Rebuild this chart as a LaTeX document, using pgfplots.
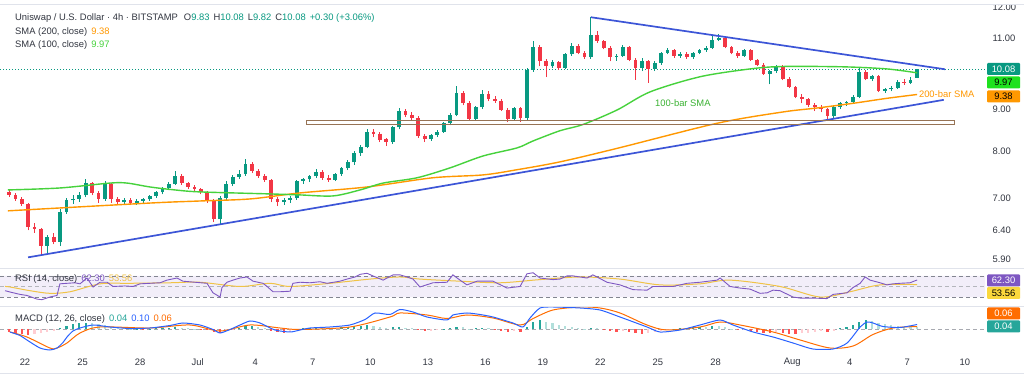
\documentclass[border=0pt]{standalone}
\usepackage{fontspec}
\setmainfont{Liberation Sans}
\usepackage{pgfplots}
\pgfplotsset{compat=1.18}
\usepackage{pgfplotstable}

\definecolor{upc}{RGB}{8,153,129}
\definecolor{dnc}{RGB}{242,54,69}
\definecolor{sma100}{RGB}{70,210,60}
\definecolor{sma100box}{RGB}{30,225,30}
\definecolor{sma200}{RGB}{255,152,0}
\definecolor{tline}{RGB}{60,85,215}
\definecolor{zone}{RGB}{150,115,85}
\definecolor{rsic}{RGB}{126,87,194}
\definecolor{rsima}{RGB}{240,195,70}
\definecolor{rsibox}{RGB}{250,215,60}
\definecolor{rsiband}{RGB}{242,238,249}
\definecolor{macdc}{RGB}{41,98,255}
\definecolor{sigc}{RGB}{255,109,0}
\definecolor{hup}{RGB}{38,166,154}
\definecolor{hupl}{RGB}{178,223,219}
\definecolor{hdn}{RGB}{255,82,82}
\definecolor{hdnl}{RGB}{255,205,210}
\definecolor{txt}{RGB}{50,54,64}
\definecolor{sep}{RGB}{224,227,235}
\definecolor{dashc}{RGB}{130,133,144}

\newcommand\f{\fontsize{9.4}{10}\selectfont}

% candles sampled every 8 hours, x = index/3 - 0.8333 (days since 22 Jun)
\pgfplotstableread{
o h l c
7.12 7.16 7.03 7.06
7.06 7.10 6.95 6.98
6.98 7.02 6.86 6.90
6.90 6.92 6.40 6.46
6.46 6.53 6.36 6.43
6.43 6.45 5.97 6.13
6.13 6.32 6.00 6.28
6.28 6.36 6.15 6.20
6.20 6.80 6.12 6.74
6.74 7.00 6.70 6.96
6.96 7.06 6.90 6.99
6.99 7.12 6.94 7.06
7.06 7.40 7.02 7.31
7.31 7.34 7.06 7.10
7.10 7.14 6.92 6.98
6.98 7.35 6.95 7.30
7.30 7.32 6.92 6.98
6.98 7.03 6.88 6.93
6.93 7.00 6.89 6.97
6.97 7.01 6.87 6.91
6.91 6.98 6.88 6.95
6.95 7.01 6.91 6.98
6.98 7.07 6.95 7.05
7.05 7.15 7.01 7.12
7.12 7.23 7.08 7.20
7.20 7.33 7.16 7.30
7.30 7.56 7.27 7.46
7.46 7.50 7.28 7.31
7.31 7.34 7.19 7.22
7.22 7.27 7.14 7.18
7.18 7.21 7.08 7.12
7.12 7.14 6.92 6.95
6.95 6.98 6.55 6.60
6.60 7.05 6.52 7.00
7.00 7.35 6.97 7.30
7.30 7.48 7.25 7.44
7.44 7.58 7.40 7.50
7.50 7.83 7.46 7.72
7.72 7.76 7.52 7.56
7.56 7.60 7.42 7.46
7.46 7.50 7.34 7.38
7.38 7.40 6.93 6.98
6.98 7.02 6.85 6.94
6.94 7.00 6.88 6.97
6.97 7.04 6.91 7.00
7.00 7.38 6.97 7.35
7.35 7.42 7.30 7.39
7.39 7.48 7.33 7.45
7.45 7.60 7.41 7.55
7.55 7.58 7.38 7.42
7.42 7.47 7.34 7.38
7.38 7.53 7.35 7.50
7.50 7.65 7.46 7.62
7.62 7.80 7.58 7.75
7.75 8.00 7.70 7.95
7.95 8.14 7.90 8.10
8.10 8.50 8.06 8.45
8.45 8.52 8.32 8.40
8.40 8.44 8.20 8.25
8.28 8.31 8.12 8.20
8.20 8.58 8.16 8.55
8.55 9.03 8.50 8.95
8.95 9.00 8.80 8.86
8.86 8.92 8.72 8.78
8.78 8.82 8.30 8.35
8.35 8.40 8.20 8.27
8.27 8.40 8.23 8.36
8.36 8.48 8.32 8.45
8.45 8.68 8.42 8.65
8.65 8.90 8.60 8.86
8.86 9.62 8.82 9.42
9.42 9.48 9.10 9.15
9.15 9.20 8.72 8.76
8.76 9.08 8.72 9.05
9.05 9.50 9.00 9.40
9.40 9.46 9.20 9.25
9.25 9.34 9.16 9.21
9.21 9.25 8.95 8.99
8.99 9.02 8.68 8.75
8.75 9.06 8.72 9.02
9.02 9.05 8.68 8.78
8.78 10.10 8.74 10.05
10.05 10.90 10.00 10.72
10.72 10.78 10.15 10.30
10.30 10.38 9.85 10.15
10.15 10.35 10.10 10.28
10.28 10.32 10.05 10.12
10.12 10.55 10.08 10.50
10.50 10.85 10.46 10.75
10.75 10.80 10.50 10.55
10.55 10.60 10.38 10.42
10.42 11.66 10.38 11.10
11.10 11.22 10.85 10.90
10.90 10.95 10.65 10.70
10.70 10.74 10.30 10.42
10.42 10.50 10.32 10.46
10.46 10.78 10.42 10.72
10.72 10.76 10.30 10.35
10.35 10.40 9.78 10.10
10.10 10.40 10.02 10.30
10.30 10.34 9.70 10.08
10.08 10.30 10.02 10.25
10.25 10.58 10.20 10.55
10.55 10.68 10.50 10.62
10.62 10.65 10.40 10.45
10.45 10.56 10.40 10.52
10.52 10.56 10.38 10.42
10.42 10.58 10.38 10.55
10.55 10.66 10.50 10.62
10.62 10.74 10.58 10.70
10.70 11.05 10.66 10.95
10.95 11.12 10.90 11.00
11.00 11.03 10.68 10.72
10.72 10.76 10.50 10.55
10.55 10.60 10.40 10.45
10.45 10.66 10.42 10.62
10.62 10.65 10.32 10.35
10.35 10.38 10.16 10.20
10.20 10.24 9.92 9.95
9.95 10.06 9.65 10.01
10.01 10.20 9.96 10.15
10.15 10.18 9.76 9.80
9.80 9.84 9.54 9.58
9.58 9.62 9.28 9.32
9.32 9.38 9.15 9.26
9.26 9.30 9.06 9.10
9.10 9.16 8.95 9.05
9.05 9.10 8.92 9.00
9.00 9.04 8.70 8.82
8.82 9.08 8.78 9.05
9.05 9.18 9.00 9.15
9.15 9.22 9.08 9.18
9.18 9.36 9.14 9.32
9.32 10.10 9.28 10.00
10.00 10.04 9.76 9.80
9.80 9.92 9.74 9.88
9.88 9.90 9.44 9.48
9.48 9.56 9.42 9.52
9.52 9.60 9.46 9.55
9.55 9.76 9.52 9.72
9.72 9.80 9.64 9.70
9.70 9.84 9.66 9.78
9.83 10.08 9.82 10.08
}\candles

\pgfplotstableread{
k v c
0 -0.05 2
1 -0.08 2
2 -0.10 2
3 -0.12 2
4 -0.10 3
5 -0.07 3
6 -0.05 3
7 -0.03 3
8 0.03 0
9 0.07 0
10 0.10 0
11 0.12 0
12 0.13 0
13 0.12 1
14 0.10 1
15 0.08 1
16 0.05 1
17 0.03 1
18 0.02 1
19 0.01 1
20 0.01 0
21 -0.01 2
22 0.01 0
23 0.02 0
24 0.02 0
25 0.03 0
26 0.04 0
27 0.03 1
28 0.02 1
29 0.01 1
30 -0.01 2
31 -0.02 2
32 -0.05 2
33 -0.07 2
34 -0.04 3
35 -0.01 3
36 0.03 0
37 0.06 0
38 0.07 0
39 0.05 1
40 0.03 1
41 -0.03 2
42 -0.06 2
43 -0.07 2
44 -0.05 3
45 -0.01 3
46 0.02 0
47 0.03 0
48 0.04 0
49 0.03 1
50 0.02 1
51 0.03 0
52 0.04 0
53 0.05 0
54 0.06 0
55 0.07 0
56 0.08 0
57 0.06 1
58 0.04 1
59 0.03 1
60 0.04 0
61 0.05 0
62 0.03 1
63 0.02 1
64 -0.02 2
65 -0.04 2
66 -0.03 3
67 -0.01 3
68 0.01 0
69 0.02 0
70 0.05 0
71 0.04 1
72 0.01 1
73 0.02 0
74 0.03 0
75 0.02 1
76 -0.01 2
77 -0.03 2
78 -0.05 2
79 -0.04 3
80 -0.06 2
81 0.05 0
82 0.15 0
83 0.18 0
84 0.15 1
85 0.12 1
86 0.09 1
87 0.06 1
88 0.04 1
89 0.02 1
90 0.01 1
91 0.03 0
92 0.02 1
93 -0.01 2
94 -0.03 2
95 -0.05 2
96 -0.04 3
97 -0.06 2
98 -0.08 2
99 -0.09 2
100 -0.07 3
101 -0.05 3
102 -0.03 3
103 -0.01 3
104 0.01 0
105 0.02 0
106 0.03 0
107 0.04 0
108 0.05 0
109 0.05 1
110 0.06 0
111 0.06 1
112 0.04 1
113 0.01 1
114 -0.02 2
115 -0.01 3
116 -0.03 2
117 -0.05 2
118 -0.07 2
119 -0.08 2
120 -0.06 3
121 -0.07 2
122 -0.09 2
123 -0.10 2
124 -0.08 3
125 -0.07 3
126 -0.05 3
127 -0.04 3
128 -0.05 2
129 -0.03 3
130 0.02 0
131 0.05 0
132 0.08 0
133 0.15 0
134 0.19 0
135 0.16 1
136 0.13 1
137 0.10 1
138 0.08 1
139 0.06 1
140 0.05 1
141 0.04 1
142 0.04 1
}\hist

\pgfplotstablegetrowsof{\candles}
\pgfmathtruncatemacro{\Nc}{\pgfplotsretval-1}

\begin{document}
\begin{tikzpicture}[x=1pt,y=1pt]
\path[use as bounding box] (0,0) rectangle (1024,377);
\fill[white] (0,0) rectangle (1024,377);

% ---------------- main price pane ----------------
\begin{axis}[
  at={(0pt,109pt)}, anchor=south west,
  width=985pt, height=268pt, scale only axis,
  xmin=-1.303, xmax=50.05,
  ymode=log, ymin=5.755, ymax=12.24,
  axis line style={draw=none}, tick style={draw=none},
  xtick=\empty, minor ytick={},
  ytick={5.9,6.4,7,8,9,11,12},
  yticklabels={5.90,6.40,7.00,8.00,9.00,11.00,12.00},
  yticklabel pos=right,
  yticklabel style={anchor=west, xshift=4pt, font=\f, text=txt},
  clip=false,
]
\addplot[upc, line width=0.6pt, dash pattern=on 1pt off 2pt, forget plot] coordinates {(-1.303,10.08) (50.05,10.08)};

\pgfplotsforeachungrouped \i in {0,...,\Nc}{%
  \pgfplotstablegetelem{\i}{o}\of\candles \let\cO\pgfplotsretval
  \pgfplotstablegetelem{\i}{h}\of\candles \let\cH\pgfplotsretval
  \pgfplotstablegetelem{\i}{l}\of\candles \let\cL\pgfplotsretval
  \pgfplotstablegetelem{\i}{c}\of\candles \let\cC\pgfplotsretval
  \pgfmathsetmacro{\cx}{\i/3-0.8333}%
  \pgfmathtruncatemacro{\isdn}{\cC<\cO}%
  \ifnum\isdn=1 \def\ccol{dnc}\else\def\ccol{upc}\fi
  \edef\tmp{%
    \noexpand\addplot[\ccol, line width=0.8pt, forget plot] coordinates {(\cx,\cL) (\cx,\cH)};%
    \noexpand\addplot[\ccol, line width=3.8pt, forget plot] coordinates {(\cx,\cO) (\cx,\cC)};%
  }\tmp
}

\addplot[sma200, line width=1.4pt, smooth, tension=0.5] coordinates {
(-0.89,6.76) (6.52,6.91) (9.12,6.95) (11.73,6.99) (14.34,7.11) (17.83,7.23)
(21.27,7.42) (23.88,7.48) (25.65,7.59) (27.89,7.76) (30.87,8.06) (36.08,8.65)
(39.52,8.93) (41.29,9.03) (43.17,9.15) (44.94,9.28) (46.51,9.38)};
\addplot[sma100, line width=1.4pt, smooth, tension=0.5] coordinates {
(-0.89,7.17) (1.82,7.21) (4.43,7.31) (5.32,7.31) (6.52,7.23) (7.82,7.17)
(9.12,7.13) (12.77,7.09) (14.34,7.07) (16.06,7.05) (17.47,7.17) (18.67,7.31)
(20.44,7.42) (22.16,7.63) (23.88,7.89) (25.65,8.07) (26.49,8.23) (27.89,8.47)
(29.09,8.62) (30.87,8.98) (32.59,9.45) (35.19,9.86) (37.80,10.08) (39.52,10.15)
(42.65,10.14) (44.94,10.08) (46.51,9.97)};

\addplot[tline, line width=1.7pt] coordinates {(0.16,5.93) (47.9,9.24)};
\addplot[tline, line width=1.7pt] coordinates {(29.5,11.66) (47.97,10.07)};
\addplot[zone, line width=1.2pt] coordinates {(14.69,8.62) (48.44,8.62) (48.44,8.71) (14.69,8.71) (14.69,8.62)};

\node[font=\f, text=sma100!85!black] at (axis cs:34.3,9.15) {100-bar SMA};
\node[font=\f, text=sma200, anchor=west, inner sep=0pt] at (axis cs:46.6,9.40) {200-bar SMA};
\end{axis}

% ---------------- RSI pane ----------------
\begin{axis}[
  at={(0pt,71pt)}, anchor=south west,
  width=985pt, height=38pt, scale only axis,
  xmin=-1.303, xmax=50.05, ymin=13, ymax=85,
  axis lines=none, clip=true,
]
\addplot[draw=none, fill=rsiband, forget plot] coordinates {(-1.303,30) (50.05,30) (50.05,70) (-1.303,70) (-1.303,30)};
\addplot[dashc, line width=0.6pt, dash pattern=on 4pt off 3pt] coordinates {(-1.303,70) (50.05,70)};
\addplot[dashc!60, line width=0.5pt, dash pattern=on 4pt off 3pt] coordinates {(-1.303,50) (50.05,50)};
\addplot[dashc, line width=0.6pt, dash pattern=on 4pt off 3pt] coordinates {(-1.303,30) (50.05,30)};
\addplot[rsima, line width=1pt, smooth, tension=0.5] coordinates {
(-1.04,50) (-0.78,49) (0.26,42) (1.30,37) (2.35,40) (3.91,55) (5.47,56) (7.56,57)
(9.12,58) (11.21,50) (12.77,56) (13.82,50) (15.90,56) (17.99,64) (19.55,68)
(20.59,64) (22.68,60) (24.77,57) (26.85,63) (28.94,68) (31.02,64) (33.11,53)
(35.19,55) (36.76,62) (39.36,50) (41.45,30) (43.01,40) (44.58,53) (46.51,53.56)};
\addplot[rsic, line width=0.9pt] coordinates {
(-1.04,42) (-0.78,39.5) (-0.26,35) (0.10,33) (0.63,26) (0.89,25) (1.30,30) (1.67,33)
(1.82,55) (2.19,56) (2.61,57) (2.87,55) (3.23,66) (3.55,49) (3.91,58) (4.28,58)
(4.59,50) (5.21,51) (5.63,50) (6.00,55) (6.52,56) (7.04,57) (7.40,62) (7.92,66)
(8.24,60) (8.86,58) (9.49,56) (9.80,38) (10.17,30) (10.27,48) (10.53,58) (10.84,62)
(11.21,66) (11.57,68) (11.89,60) (12.41,56) (12.62,50) (12.93,40) (13.30,40) (13.82,41)
(13.97,56) (14.34,58) (14.86,57) (15.38,59) (15.75,56) (16.42,60) (16.79,64) (17.21,68)
(17.47,73) (17.83,75) (18.14,70) (18.67,62) (19.19,72) (19.55,72) (19.92,68) (20.23,64)
(20.59,49) (21.27,57) (22.00,58) (22.31,72) (22.68,62) (23.04,53) (23.57,60) (24.40,60)
(25.13,47) (25.81,50) (26.17,74) (26.49,76) (26.85,66) (27.53,63) (27.89,64) (28.26,70)
(28.57,70) (29.30,66) (29.61,72) (29.98,65) (30.34,58) (31.02,53) (31.70,44) (32.43,43)
(32.74,50) (33.79,50) (34.52,56) (35.19,58) (36.08,62) (36.24,66) (36.76,50) (37.28,47)
(37.80,45) (38.32,37) (38.69,38) (39.00,43) (39.36,42) (40.04,30) (40.41,28) (41.08,28)
(41.81,27) (42.13,35) (42.86,38) (43.17,48) (43.54,56) (43.80,68) (44.06,62) (44.58,57)
(44.94,53) (45.26,55) (45.62,56) (46.14,57) (46.51,62.3)};
\end{axis}

% ---------------- MACD pane ----------------
\begin{axis}[
  at={(0pt,24pt)}, anchor=south west,
  width=985pt, height=47pt, scale only axis,
  xmin=-1.303, xmax=50.05, ymin=-0.47, ymax=0.47,
  axis line style={draw=none}, tick style={draw=none},
  ytick=\empty,
  xtick={0,3,6,9,12,15,18,21,24,27,30,33,36,40,43,46,49},
  xticklabels={22,25,28,Jul,4,7,10,13,16,19,22,25,28,Aug,4,7,10},
  xticklabel style={anchor=center, yshift=-9pt, font=\f, text=txt},
  clip=true,
]
\addplot[dashc!70, line width=0.5pt, dash pattern=on 4pt off 3pt] coordinates {(-1.303,0) (50.05,0)};
\addplot[ycomb, hup, line width=2.2pt, restrict expr to domain={\thisrow{c}}{0:0}] table[x expr=\thisrow{k}/3-0.8333, y=v] {\hist};
\addplot[ycomb, hupl, line width=2.2pt, restrict expr to domain={\thisrow{c}}{1:1}] table[x expr=\thisrow{k}/3-0.8333, y=v] {\hist};
\addplot[ycomb, hdn, line width=2.2pt, restrict expr to domain={\thisrow{c}}{2:2}] table[x expr=\thisrow{k}/3-0.8333, y=v] {\hist};
\addplot[ycomb, hdnl, line width=2.2pt, restrict expr to domain={\thisrow{c}}{3:3}] table[x expr=\thisrow{k}/3-0.8333, y=v] {\hist};
\addplot[sigc, line width=1pt, smooth, tension=0.5] coordinates {
(-0.78,-0.05) (0.10,-0.15) (1.30,-0.37) (1.67,-0.37) (2.19,-0.27) (2.87,-0.07)
(3.91,0.05) (6.52,0.03) (8.60,0.09) (10.17,-0.03) (11.73,0.09) (13.30,0.03)
(14.34,0.0) (16.94,0.05) (19.03,0.25) (19.55,0.33) (20.96,0.29) (22.00,0.22)
(23.04,0.29) (24.40,0.23) (25.81,0.09) (26.49,0.22) (27.53,0.39) (28.94,0.45)
(29.98,0.43) (31.02,0.33) (32.43,0.09) (33.47,-0.01) (35.19,0.05) (36.24,0.15)
(37.28,0.09) (39.00,-0.05) (40.41,-0.21) (41.97,-0.37) (43.17,-0.33) (44.21,-0.10)
(45.26,0.03) (46.51,0.06)};
\addplot[macdc, line width=1pt, smooth, tension=0.4] coordinates {
(-0.78,-0.05) (-0.26,-0.12) (0.10,-0.21) (0.78,-0.37) (1.30,-0.41) (1.67,-0.37)
(1.98,-0.26) (2.19,-0.15) (2.50,-0.03) (2.87,0.03) (3.55,0.09) (4.43,0.05)
(5.47,0.02) (6.52,0.03) (7.56,0.08) (8.24,0.13) (9.12,0.09) (9.80,0.0)
(10.17,-0.07) (10.69,0.0) (11.21,0.09) (11.73,0.17) (12.25,0.13) (13.03,-0.01)
(13.82,-0.05) (14.34,-0.01) (14.86,0.03) (15.90,0.05) (16.94,0.09) (17.73,0.20)
(18.25,0.33) (19.03,0.30) (19.55,0.40) (20.23,0.35) (20.96,0.25) (22.00,0.19)
(22.31,0.29) (23.04,0.33) (23.72,0.30) (24.40,0.25) (25.44,0.13) (25.96,0.05)
(26.33,0.23) (26.85,0.43) (27.53,0.45) (28.94,0.43) (29.98,0.39) (31.02,0.25)
(32.43,0.05) (33.11,-0.05) (34.15,-0.01) (35.19,0.09) (36.24,0.19) (36.91,0.09)
(37.96,-0.05) (39.00,-0.15) (40.04,-0.27) (41.08,-0.39) (42.13,-0.39) (42.86,-0.27)
(43.54,0.05) (43.90,0.15) (44.21,0.13) (44.73,0.06) (45.62,0.04) (46.51,0.10)};
\end{axis}

\draw[sep, line width=0.8pt] (0,109) -- (1024,109);
\draw[sep, line width=0.8pt] (0,71) -- (1024,71);
\fill[white] (0,373) rectangle (1024,377);
\draw[sep, line width=0.6pt] (0,373) -- (1024,373);
\draw[sep, line width=0.6pt] (0,4) -- (1024,4);

\node[anchor=west, inner sep=0pt, font=\f, text=txt] at (15,359) {Uniswap / U.S. Dollar · 4h · BITSTAMP\hspace{6pt}O\textcolor{upc}{9.83}\hspace{4pt}H\textcolor{upc}{10.08}\hspace{4pt}L\textcolor{upc}{9.82}\hspace{4pt}C\textcolor{upc}{10.08}\hspace{4pt}\textcolor{upc}{+0.30 (+3.06\%)}};
\node[anchor=west, inner sep=0pt, font=\f, text=txt] at (15,345) {SMA (200, close)\hspace{4pt}\textcolor{sma200}{9.38}};
\node[anchor=west, inner sep=0pt, font=\f, text=txt] at (15,332) {SMA (100, close)\hspace{4pt}\textcolor{sma100}{9.97}};
\node[anchor=west, inner sep=0pt, font=\f, text=txt] at (15,98) {RSI (14, close)\hspace{4pt}\textcolor{rsic}{62.30}\hspace{4pt}\textcolor{rsima}{53.56}};
\node[anchor=west, inner sep=0pt, font=\f, text=txt] at (15,58) {MACD (12, 26, close)\hspace{4pt}\textcolor{hup}{0.04}\hspace{4pt}\textcolor{macdc}{0.10}\hspace{4pt}\textcolor{sigc}{0.06}};

\tikzset{vbox/.style={minimum width=33pt, minimum height=12pt, inner sep=0pt, font=\f, rounded corners=1pt}}
\node[vbox, fill=upc, text=white] at (1003.5,308) {10.08};
\node[vbox, fill=sma100box, text=black] at (1003.5,294.5) {9.97};
\node[vbox, fill=sma200, text=black] at (1003.5,280.5) {9.38};
\node[vbox, fill=rsic, text=white] at (1003.5,96.5) {62.30};
\node[vbox, fill=rsibox, text=black] at (1003.5,84) {53.56};
\node[vbox, fill=sigc, text=white] at (1003.5,63.5) {0.06};
\node[vbox, fill=hup, text=white] at (1003.5,50.5) {0.04};
\end{tikzpicture}
\end{document}
